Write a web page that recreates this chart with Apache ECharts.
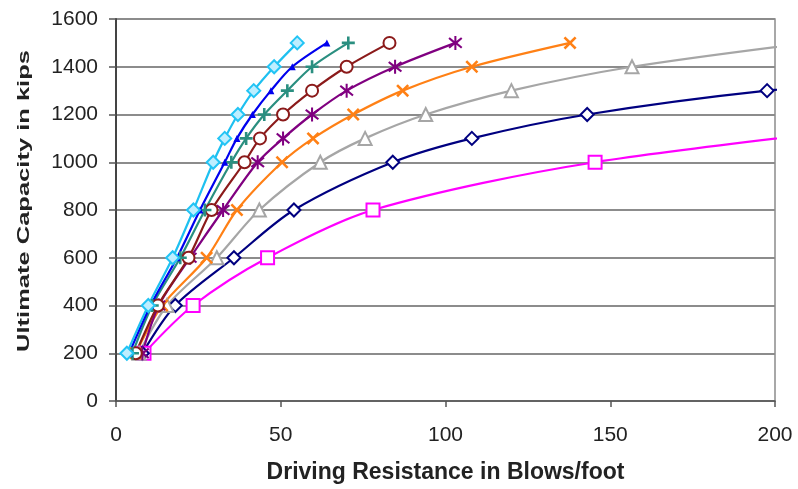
<!DOCTYPE html>
<html><head><meta charset="utf-8">
<script src="https://cdn.jsdelivr.net/npm/echarts@6/dist/echarts.min.js"></script>
<style>html,body{margin:0;padding:0;background:#fff}#c{width:798px;height:489px}</style>
</head><body><div id="c"></div>
<script>
const xTicks = [0, 50, 100, 150, 200];
const yTicks = [0, 200, 400, 600, 800, 1000, 1200, 1400, 1600];
const xTitle = 'Driving Resistance in Blows/foot';
const yTitle = 'Ultimate Capacity in kips';

const cyanData = [[3.3,200],[9.8,400],[17.2,600],[23.5,800],[29.5,1000],[33,1100],[37,1200],[41.8,1300],[48,1400],[55,1500]];
const blueData = [[4,200],[10.5,400],[18.5,600],[25.5,800],[33,1000],[36.7,1100],[41.4,1200],[47,1300],[53.5,1400],[64,1500]];
const tealData = [[5,200],[11,400],[19.5,600],[27,800],[35,1000],[39.5,1100],[45,1200],[52,1300],[59.5,1400],[70.5,1500]];
const brownData = [[6,200],[12.7,400],[22,600],[29,800],[39,1000],[43.7,1100],[50.7,1200],[59.5,1300],[70,1400],[83,1500]];
const purpleData = [[8,200],[13,400],[22.5,600],[32.5,800],[43,1000],[50.7,1100],[59.5,1200],[70,1300],[84.7,1400],[103,1500]];
const orangeData = [[6,200],[14,400],[27.5,600],[36.7,800],[50.4,1000],[59.8,1100],[72,1200],[87,1300],[108,1400],[137.8,1500]];
const grayData = [[7,200],[15.5,400],[30.6,600],[43.5,800],[62,1000],[75.6,1100],[94,1200],[120,1300],[156.6,1400],[210,1500]];
const navyData = [[8,200],[18,400],[35.8,600],[54,800],[84,1000],[108,1100],[143,1200],[197.6,1300],[280,1400]];
const magentaData = [[8.5,200],[23.4,400],[46,600],[78,800],[145.4,1000],[265,1200]];

const PLUS = 'path://M4,0H6V4H10V6H6V10H4V6H0V4H4Z';
const XMARK = 'path://M1.4,0L5,3.6L8.6,0L10,1.4L6.4,5L10,8.6L8.6,10L5,6.4L1.4,10L0,8.6L3.6,5L0,1.4Z';
const STAR = 'path://M4.3,0H5.7V3.6L8.9,1L9.8,2.1L6.5,5L9.8,7.9L8.9,9L5.7,6.4V10H4.3V6.4L1.1,9L0.2,7.9L3.5,5L0.2,2.1L1.1,1L4.3,3.6Z';

function mk(name, data, color, symbol, size, hollow, extra) {
  return Object.assign({
    name, type: 'line', data, smooth: 0.3, clip: true,
    symbol, symbolSize: size,
    lineStyle: { color, width: 2.2 },
    itemStyle: hollow ? { color: '#ffffff', borderColor: color, borderWidth: 2 } : { color, borderWidth: 0 },
    emphasis: { disabled: true }, z: 3
  }, extra || {});
}

const series = [
  mk('magenta', magentaData, '#ff00ff', 'rect', 13, true),
  mk('navy', navyData, '#000080', 'diamond', 13, true),
  mk('gray', grayData, '#a6a6a6', 'triangle', 13, true),
  mk('orange', orangeData, '#ff8015', XMARK, 13, false),
  mk('purple', purpleData, '#800080', STAR, 14, false),
  mk('brown', brownData, '#8b1a1a', 'circle', 12, true),
  mk('teal', tealData, '#2a8f80', PLUS, 13, false),
  mk('blue', blueData, '#0000ee', 'triangle', 7, false),
  mk('cyan', cyanData, '#1ec0f0', 'diamond', 13, true, { itemStyle: { color: '#bdeeff', borderColor: '#22c4f5', borderWidth: 2 } })
];

const chart = echarts.init(document.getElementById('c'), null, { renderer: 'canvas' });
chart.setOption({
  animation: false,
  backgroundColor: '#ffffff',
  grid: { left: 116, right: 23, top: 19, bottom: 86, show: true, borderColor: '#8c8c8c', borderWidth: 1.5 },
  xAxis: {
    type: 'value', min: xTicks[0], max: xTicks[xTicks.length - 1], interval: 50,
    name: xTitle, nameLocation: 'middle', nameGap: 60,
    nameTextStyle: { fontFamily: 'Liberation Sans', fontWeight: 'bold', fontSize: 23, color: '#222' },
    axisLine: { show: true, lineStyle: { color: '#555', width: 1.5 } },
    axisTick: { show: true, length: 6, lineStyle: { color: '#555', width: 1.5 } },
    axisLabel: { fontFamily: 'Liberation Sans', fontSize: 21, color: '#222', margin: 24 },
    splitLine: { show: false }
  },
  yAxis: {
    type: 'value', min: yTicks[0], max: yTicks[yTicks.length - 1], interval: 200,
    axisLine: { show: true, lineStyle: { color: '#444', width: 2 } },
    axisTick: { show: true, inside: false, length: 7, lineStyle: { color: '#555', width: 1.5 } },
    axisLabel: { fontFamily: 'Liberation Sans', fontSize: 21, color: '#222', margin: 18, formatter: v => String(v) },
    splitLine: { show: true, lineStyle: { color: '#8c8c8c', width: 2 } }
  },
  graphic: [{
    type: 'text', x: 24, y: 201, rotation: Math.PI / 2, scaleX: 1.5, scaleY: 1,
    style: { text: yTitle, font: 'bold 17px "Liberation Sans"', fill: '#222', textAlign: 'center', textVerticalAlign: 'middle' }
  }],
  series
});
</script></body></html>
